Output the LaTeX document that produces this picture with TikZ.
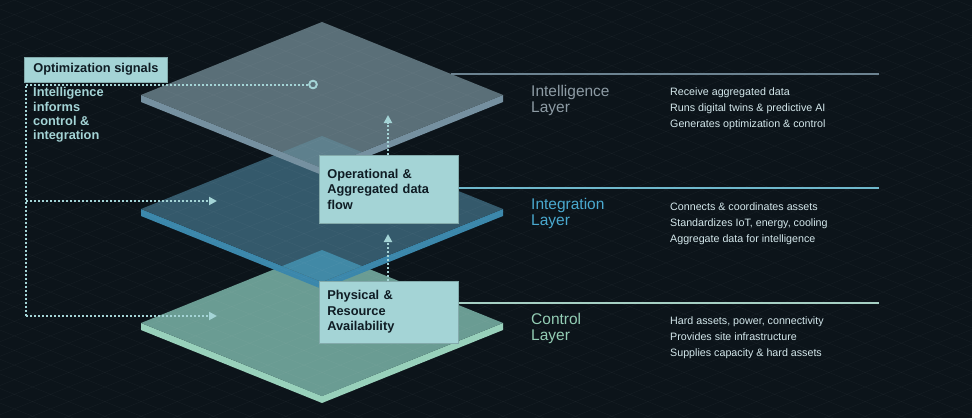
\documentclass[tikz,border=0pt]{standalone}
\usepackage{fontspec}
\setmainfont{Liberation Sans}
\usetikzlibrary{arrows.meta,positioning}
\definecolor{stackbg}{HTML}{0C141A}
\definecolor{stackteal}{HTML}{A4D4D6}
\definecolor{stackink}{HTML}{0F1C24}
\definecolor{intelface}{HTML}{5A6F78}
\definecolor{intelside}{HTML}{7590A0}
\definecolor{intelpeek}{HTML}{5E808D}
\definecolor{integface}{HTML}{34596B}
\definecolor{integside}{HTML}{3B87AB}
\definecolor{integpeek}{HTML}{4189A6}
\definecolor{ctrlface}{HTML}{6A9C93}
\definecolor{ctrlside}{HTML}{98D1BB}
\definecolor{inteltitle}{HTML}{8D9BA4}
\definecolor{integtitle}{HTML}{4AA9CF}
\definecolor{ctrltitle}{HTML}{93CDB4}
\definecolor{bullettext}{HTML}{D4E8EC}
\definecolor{intelrule}{HTML}{6C8391}
\definecolor{integrule}{HTML}{6FB8CC}
\definecolor{ctrlrule}{HTML}{A6D0C4}

\begin{document}
\begin{tikzpicture}[
  x=1pt,y=-1pt,
  tagbox/.style={fill=stackteal,draw=stackteal!80!black,line width=0.6pt,text=stackink,font=\bfseries\fontsize{12.8}{15.5}\selectfont,align=left,inner xsep=8pt,inner ysep=0pt},
  note/.style={text=stackteal,font=\bfseries\fontsize{12.8}{14.3}\selectfont,align=left,anchor=north west,inner sep=0pt},
  layername/.style={font=\fontsize{15.5}{15.3}\selectfont,align=left,anchor=north west,inner sep=0pt},
  bullets/.style={text=bullettext,font=\fontsize{10.7}{16.3}\selectfont,align=left,anchor=north west,inner sep=0pt},
  signal/.style={draw=stackteal,line width=2pt,dash pattern=on 2pt off 2pt},
  sigarr/.style={signal,-{Triangle[length=8pt,width=8pt]}},
  ring/.style={circle,draw=stackteal,line width=1.8pt,fill=intelface,inner sep=0pt,minimum size=7.5pt},
  rule/.style={line width=1.3pt}
]
\useasboundingbox (0,0) rectangle (972,418);
\fill[stackbg] (0,0) rectangle (972,418);

\foreach \ly/\face/\side/\peek in {323/ctrlface/ctrlside/ctrlface,209/integface/integside/integpeek,95/intelface/intelside/intelpeek}{
  \fill[\side] (141,\ly) -- (141,\ly+7) -- (322,\ly+80) -- (503,\ly+7) -- (503,\ly) -- (322,\ly+73) -- cycle;
  \fill[\face] (322,\ly-73) -- (503,\ly) -- (322,\ly+73) -- (141,\ly) -- cycle;
  \begin{scope}
    \clip (322,\ly-73) -- (503,\ly) -- (322,\ly+73) -- (141,\ly) -- cycle;
    \fill[\peek] (322,\ly+41) -- (503,\ly+114) -- (322,\ly+187) -- (141,\ly+114) -- cycle;
  \end{scope}
}

\begin{scope}
  \clip (0,0) rectangle (972,418);
  \foreach \c in {-399.9,-385.3,...,418}
    \draw[white,opacity=0.03,line width=0.6pt] (0,\c) -- (972,\c+392);
  \foreach \c in {5.9,20.5,...,810}
    \draw[white,opacity=0.03,line width=0.6pt] (0,\c) -- (972,\c-392);
\end{scope}

\node[tagbox,anchor=west,minimum height=25pt,inner xsep=9pt] (signals) at (24,69.5) {Optimization signals};
\node[note] (informs) at (33,87.4) {Intelligence\\informs\\control \&\\integration};
\node[tagbox,anchor=north west,text width=123pt,minimum height=68pt] (oper) at (319,155) {Operational \&\\Aggregated data\\flow};
\node[tagbox,below=57pt of oper,text width=123pt,minimum height=62pt] (phys) {Physical \&\\Resource\\Availability};
\node[ring] (hub) at (313,84.5) {};

\coordinate (bend) at (26,84.5);
\coordinate (tee) at (26,201);
\coordinate (elbow) at (26,316);
\coordinate (tipM) at (217,201);
\coordinate (tipC) at (217,316);
\coordinate (upM) at (388,234);
\coordinate (upI) at (388,115);
\coordinate (rim) at (451,74);
\coordinate (ruleI) at (879,74);
\coordinate (ruleM) at (879,188);
\coordinate (ruleC) at (879,303);

\draw[rule,intelrule] (rim) -- (ruleI);
\draw[rule,integrule] (ruleM -| oper.east) -- (ruleM);
\draw[rule,ctrlrule] (ruleC -| phys.east) -- (ruleC);

\draw[signal] (hub.west) -- (bend) -- (elbow);
\draw[sigarr] (tee) -- (tipM);
\draw[sigarr] (elbow) -- (tipC);
\draw[sigarr] (phys.north -| upM) -- (upM);
\draw[sigarr] (oper.north -| upI) -- (upI);
\node[ring] at (hub) {};

\node[layername,text=inteltitle] (intelname) at (531,85.5) {Intelligence\\Layer};
\node[layername,text=integtitle] (integname) at (531,198.5) {Integration\\Layer};
\node[layername,text=ctrltitle] (ctrlname) at (531,313.5) {Control\\Layer};

\node[bullets] (intelnotes) at (670,87.2) {Receive aggregated data\\Runs digital twins \& predictive AI\\Generates optimization \& control};
\node[bullets] (integnotes) at (670,202.2) {Connects \& coordinates assets\\Standardizes IoT, energy, cooling\\Aggregate data for intelligence};
\node[bullets] (ctrlnotes) at (670,316.2) {Hard assets, power, connectivity\\Provides site infrastructure\\Supplies capacity \& hard assets};
\end{tikzpicture}
\end{document}
